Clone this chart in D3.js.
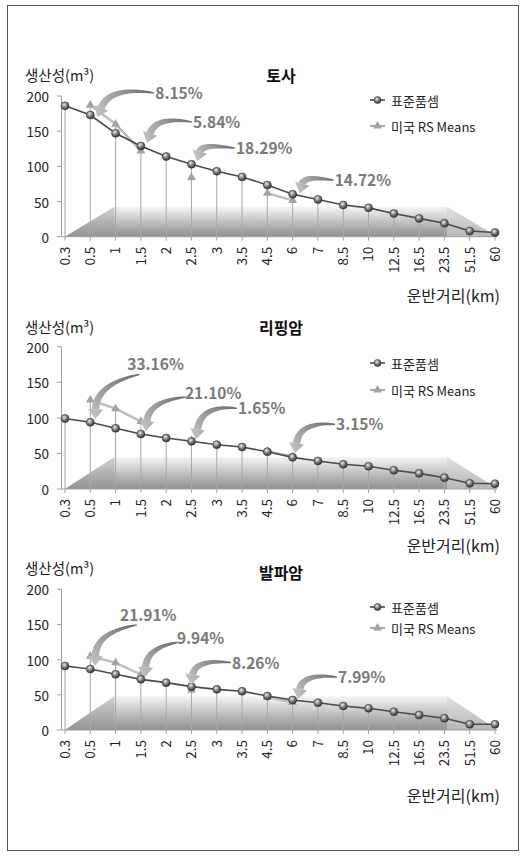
<!DOCTYPE html>
<html>
<head>
<meta charset="utf-8">
<script src="https://cdn.jsdelivr.net/npm/d3@7"></script>
<style>
  body { margin: 0; background: #fff; }
  svg { display: block; }
  text { font-family: "Noto Sans CJK KR", "Noto Sans", sans-serif; }
</style>
</head>
<body>
<svg id="chart" width="526" height="858"></svg>
<script>
// ---- data ----------------------------------------------------------------
const distances = ["0.3","0.5","1","1.5","2","2.5","3","3.5","4.5","6","7","8.5","10","12.5","16.5","23.5","51.5","60"];
const yTicks = [0, 50, 100, 150, 200];
const panelTitles = ["토사", "리핑암", "발파암"];
const seriesNames = ["표준품셈", "미국 RS Means"];

// productivity by 표준품셈 (m³/h)
const standardSoil     = [186, 173, 147, 129, 114, 103, 93, 85, 73.5, 60.3, 53, 45, 41, 33, 26, 19, 8, 6];
const standardRipping  = [99, 93.7, 85.3, 77.3, 71.7, 67, 62.3, 59, 52.4, 44.5, 39.4, 34.7, 31.9, 26.3, 22, 15.9, 8, 7.5];
const standardBlasting = [91, 86.7, 79.2, 72, 67.3, 61.6, 57.8, 55, 48.3, 42.6, 38.8, 34.1, 30.8, 26, 21.3, 16.6, 8.1, 8.1];

// productivity by RS Means (only some distances are published)
const rsSoil     = [null, 187, 160, 122, null, 84.2, null, null, 62, 51.4, null, null, null, null, null, null, null, null];
const rsRipping  = [null, 125, 113, 95, null, 68.1, null, null, 53, 45.9, null, null, null, null, null, null, null, null];
const rsBlasting = [null, 105, 95.7, 79, null, 56.5, null, null, 47, 39.3, null, null, null, null, null, null, null, null];

// difference labels and the distance each one points at
const diffSoil     = ["8.15%", "5.84%", "18.29%", "14.72%"];
const diffRipping  = ["33.16%", "21.10%", "1.65%", "3.15%"];
const diffBlasting = ["21.91%", "9.94%", "8.26%", "7.99%"];
const diffDistances = ["0.5", "1.5", "2.5", "6"];

// ---- layout --------------------------------------------------------------
const panels = [
  { title: panelTitles[0], std: standardSoil, rs: rsSoil, diffs: diffSoil,
    top: 96, bottom: 236.7, titleY: 75, unitY: 74, legendY: [100, 126], axisTitleY: 295, floor: 42.6,
    callouts: [
      { text: [65, -23], tail: [64, -22], ctrl: [20, -29], tip: [7, 2] },
      { text: [52, -25], tail: [51, -24], ctrl: [15, -30], tip: [6, -3] },
      { text: [44.5, -17], tail: [43.5, -16], ctrl: [11, -21], tip: [5.5, -3] },
      { text: [42, -15], tail: [41, -14], ctrl: [12, -19], tip: [7, -1] }
    ] },
  { title: panelTitles[1], std: standardRipping, rs: rsRipping, diffs: diffRipping,
    top: 346.7, bottom: 489, titleY: 327, unitY: 326, legendY: [363, 390], axisTitleY: 545, floor: 45,
    callouts: [
      { text: [37, -59], tail: [49, -48], ctrl: [6, -38], tip: [5, -3] },
      { text: [44, -42], tail: [45, -37], ctrl: [8, -33], tip: [5, -3] },
      { text: [46.5, -34], tail: [45.5, -33], ctrl: [10, -37], tip: [4.5, -2] },
      { text: [43.4, -34], tail: [42.4, -33], ctrl: [7, -36], tip: [2.4, -4] }
    ] },
  { title: panelTitles[2], std: standardBlasting, rs: rsBlasting, diffs: diffBlasting,
    top: 589.3, bottom: 730, titleY: 572, unitY: 567, legendY: [607, 628], axisTitleY: 795, floor: 48,
    callouts: [
      { text: [29.7, -55], tail: [46.7, -44], ctrl: [6, -37], tip: [4.7, -3] },
      { text: [36, -42], tail: [37, -37], ctrl: [6, -32], tip: [4, -2] },
      { text: [40.5, -25], tail: [39.5, -24], ctrl: [4, -28], tip: [-0.5, -2] },
      { text: [45.4, -24], tail: [44.4, -23], ctrl: [10, -27], tip: [5.4, -1] }
    ] }
];

const svg = d3.select("#chart");
const defs = svg.append("defs");

// outer frame
svg.append("rect").attr("x", 7.5).attr("y", 5.5).attr("width", 511).attr("height", 845)
  .attr("fill", "none").attr("stroke", "#555").attr("stroke-width", 1);

// shared gradients
const ball = defs.append("radialGradient").attr("id", "ball").attr("cx", "40%").attr("cy", "35%").attr("r", "65%");
ball.append("stop").attr("offset", "0%").attr("stop-color", "#f0f0f0");
ball.append("stop").attr("offset", "45%").attr("stop-color", "#8a8a8a");
ball.append("stop").attr("offset", "100%").attr("stop-color", "#2e2e2e");

const floorGrad = defs.append("linearGradient").attr("id", "floorGrad").attr("x1", 0).attr("y1", 0).attr("x2", 0).attr("y2", 1);
floorGrad.append("stop").attr("offset", "0%").attr("stop-color", "#f6f6f6");
floorGrad.append("stop").attr("offset", "100%").attr("stop-color", "#8e8e8e");

const x = d3.scalePoint().domain(distances).range([65, 495]);
const idx = d3.scaleLinear().domain([0, distances.length - 1]).range([65, 495]);

let arrowCount = 0;

// curved, tapering callout arrow
function drawArrow(g, tail, ctrl, tip) {
  const id = "arrowGrad" + (arrowCount++);
  const gr = defs.append("linearGradient").attr("id", id).attr("gradientUnits", "userSpaceOnUse")
    .attr("x1", tail[0]).attr("y1", tail[1]).attr("x2", tip[0]).attr("y2", tip[1]);
  gr.append("stop").attr("offset", "0%").attr("stop-color", "#6a6a6a");
  gr.append("stop").attr("offset", "55%").attr("stop-color", "#9a9a9a");
  gr.append("stop").attr("offset", "100%").attr("stop-color", "#c2c2c2");

  const dx = tip[0] - ctrl[0], dy = tip[1] - ctrl[1];
  const L = Math.hypot(dx, dy), ux = dx / L, uy = dy / L;
  const headLen = 10, headHalf = 7.5;
  const base = [tip[0] - ux * headLen, tip[1] - uy * headLen];
  const N = 30, left = [], right = [];
  for (let i = 0; i <= N; i++) {
    const t = i / N, mt = 1 - t;
    const px = mt * mt * tail[0] + 2 * mt * t * ctrl[0] + t * t * base[0];
    const py = mt * mt * tail[1] + 2 * mt * t * ctrl[1] + t * t * base[1];
    let tx = 2 * mt * (ctrl[0] - tail[0]) + 2 * t * (base[0] - ctrl[0]);
    let ty = 2 * mt * (ctrl[1] - tail[1]) + 2 * t * (base[1] - ctrl[1]);
    const tl = Math.hypot(tx, ty); tx /= tl; ty /= tl;
    const nx = -ty, ny = tx;
    const w = 0.6 + 3.2 * Math.pow(t, 0.7);
    left.push([px + nx * w, py + ny * w]);
    right.push([px - nx * w, py - ny * w]);
  }
  const body = left.concat(right.reverse());
  g.append("path").attr("d", d3.line()(body) + "Z").attr("fill", `url(#${id})`);
  const nx = -uy, ny = ux;
  g.append("path")
    .attr("d", d3.line()([[base[0] + nx * headHalf, base[1] + ny * headHalf], tip, [base[0] - nx * headHalf, base[1] - ny * headHalf]]) + "Z")
    .attr("fill", `url(#${id})`);
}

panels.forEach(p => {
  const y = d3.scaleLinear().domain([0, 200]).range([p.bottom, p.top]);
  const g = svg.append("g");

  // shaded floor behind the plot
  const fl = p.floor;
  const leftFace = [[idx(0), y(0)], [idx(1.95), y(fl)], [idx(1.95), y(0)]];
  const mainFace = [[idx(0), y(0)], [idx(1.95), y(fl)], [idx(15.1), y(fl)], [idx(17.1), y(0)]];
  const rightFace = [[idx(15.1), y(fl)], [idx(17.1), y(0)], [idx(15.1), y(0)]];
  g.append("path").attr("d", d3.line()(mainFace) + "Z").attr("fill", "url(#floorGrad)");
  g.append("path").attr("d", d3.line()(leftFace) + "Z").attr("fill", "#9a9a9a").attr("opacity", 0.4);
  g.append("path").attr("d", d3.line()(rightFace) + "Z").attr("fill", "#d4d4d4").attr("opacity", 0.6);

  // y axis
  g.append("line").attr("x1", 61.5).attr("x2", 61.5).attr("y1", y(0)).attr("y2", y(200))
    .attr("stroke", "#a0a0a0");
  yTicks.forEach(t => {
    g.append("line").attr("x1", 57).attr("x2", 61.5).attr("y1", y(t)).attr("y2", y(t)).attr("stroke", "#a0a0a0");
    g.append("text").attr("x", 49).attr("y", y(t)).attr("text-anchor", "end")
      .attr("dominant-baseline", "central").attr("font-size", 13.5).attr("fill", "#222").text(t);
  });

  // x axis
  g.append("line").attr("x1", 61.5).attr("x2", 497).attr("y1", y(0)).attr("y2", y(0)).attr("stroke", "#a0a0a0");
  distances.forEach(d => {
    g.append("line").attr("x1", x(d)).attr("x2", x(d)).attr("y1", y(0)).attr("y2", y(0) + 4).attr("stroke", "#a0a0a0");
    g.append("text")
      .attr("transform", `translate(${x(d) + 4.8},${y(0) + 10}) rotate(-90)`)
      .attr("text-anchor", "end").attr("font-size", 13.5).attr("fill", "#222").text(d);
  });

  // drop lines
  distances.forEach((d, i) => {
    const top = Math.max(p.std[i], p.rs[i] == null ? 0 : p.rs[i]);
    g.append("line").attr("x1", x(d)).attr("x2", x(d)).attr("y1", y(0)).attr("y2", y(top))
      .attr("stroke", "#a8a8a8").attr("stroke-width", 1);
  });

  // RS Means series
  const rsLine = d3.line().defined(v => v[1] != null).x(v => x(v[0])).y(v => y(v[1]));
  const rsPts = distances.map((d, i) => [d, p.rs[i]]);
  g.append("path").attr("d", rsLine(rsPts)).attr("fill", "none").attr("stroke", "#a9a9a9").attr("stroke-width", 2.2);
  g.append("path").attr("d", rsLine(rsPts)).attr("fill", "none").attr("stroke", "#dcdcdc").attr("stroke-width", 0.7);
  const tri = d3.symbol().type(d3.symbolTriangle).size(34);
  rsPts.filter(v => v[1] != null).forEach(v => {
    g.append("path").attr("d", tri()).attr("transform", `translate(${x(v[0])},${y(v[1])})`)
      .attr("fill", "#a3a3a3");
  });

  // 표준품셈 series
  const stdPts = distances.map((d, i) => [d, p.std[i]]);
  g.append("path").attr("d", d3.line().x(v => x(v[0])).y(v => y(v[1]))(stdPts))
    .attr("fill", "none").attr("stroke", "#4a4a4a").attr("stroke-width", 1.6);
  stdPts.forEach(v => {
    g.append("circle").attr("cx", x(v[0])).attr("cy", y(v[1])).attr("r", 4)
      .attr("fill", "url(#ball)").attr("stroke", "#3a3a3a").attr("stroke-width", 0.6);
  });

  // callouts
  p.diffs.forEach((label, k) => {
    const i = distances.indexOf(diffDistances[k]);
    const ax = x(distances[i]), ay = y(p.std[i]);
    const c = p.callouts[k];
    const at = o => [ax + o[0], ay + o[1]];
    drawArrow(g, at(c.tail), at(c.ctrl), at(c.tip));
    g.append("text").attr("x", ax + c.text[0]).attr("y", ay + c.text[1])
      .attr("dominant-baseline", "central").attr("font-size", 15.5).attr("font-weight", "bold")
      .attr("fill", "#7a7a7a").text(label);
  });

  // titles
  g.append("text").attr("x", 25).attr("y", p.unitY).attr("dominant-baseline", "central")
    .attr("font-size", 14.5).attr("fill", "#222").text("생산성(m³)");
  g.append("text").attr("x", 281).attr("y", p.titleY).attr("text-anchor", "middle")
    .attr("dominant-baseline", "central").attr("font-size", 16).attr("font-weight", "bold")
    .attr("fill", "#111").text(p.title);
  g.append("text").attr("x", 500).attr("y", p.axisTitleY).attr("text-anchor", "end")
    .attr("dominant-baseline", "central").attr("font-size", 16).attr("fill", "#222").text("운반거리(km)");

  // legend
  const lg = g.append("g");
  lg.append("line").attr("x1", 370).attr("x2", 385).attr("y1", p.legendY[0]).attr("y2", p.legendY[0])
    .attr("stroke", "#4a4a4a").attr("stroke-width", 1.6);
  lg.append("circle").attr("cx", 377.5).attr("cy", p.legendY[0]).attr("r", 3.5)
    .attr("fill", "url(#ball)").attr("stroke", "#3a3a3a").attr("stroke-width", 0.6);
  lg.append("text").attr("x", 391).attr("y", p.legendY[0]).attr("dominant-baseline", "central")
    .attr("font-size", 13).attr("fill", "#222").text(seriesNames[0]);
  lg.append("line").attr("x1", 370).attr("x2", 385).attr("y1", p.legendY[1]).attr("y2", p.legendY[1])
    .attr("stroke", "#a9a9a9").attr("stroke-width", 2.2);
  lg.append("path").attr("d", tri()).attr("transform", `translate(377.5,${p.legendY[1]})`).attr("fill", "#a3a3a3");
  lg.append("text").attr("x", 391).attr("y", p.legendY[1]).attr("dominant-baseline", "central")
    .attr("font-size", 13).attr("fill", "#222").text(seriesNames[1]);
});
</script>
</body>
</html>
